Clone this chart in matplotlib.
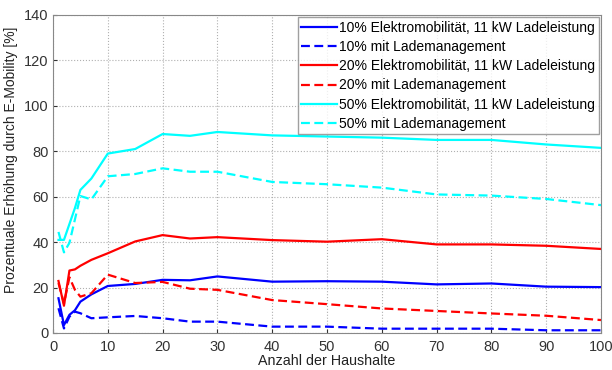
import matplotlib
matplotlib.use("Agg")
import matplotlib.pyplot as plt

plt.rcParams['font.family'] = ['Liberation Sans', 'DejaVu Sans']

x = [1, 2, 3, 4, 5, 7, 10, 15, 20, 25, 30, 40, 50, 60, 70, 80, 90, 100]

blue_solid = [15.3, 3.5, 8, 10, 13.8, 17, 20.7, 21.6, 23.4, 23.2, 24.9, 22.6, 22.8, 22.6, 21.4, 21.8, 20.4, 20.2]
blue_dash = [10.9, 2, 7.2, 9.4, 8.7, 6.5, 6.9, 7.5, 6.5, 5, 5, 2.8, 2.8, 1.9, 1.9, 1.9, 1.2, 1.2]
red_solid = [22.9, 12, 27.5, 28, 29.6, 32.2, 35.1, 40.3, 43.1, 41.6, 42.2, 40.9, 40.2, 41.3, 39, 39, 38.4, 37]
red_dash = [22, 13, 24.5, 19, 16, 17.5, 25.7, 22, 22.5, 19.5, 19, 14.5, 12.7, 10.8, 9.7, 8.6, 7.6, 5.7]
cyan_solid = [41, 41, 48, 55, 63, 68, 79, 81, 87.6, 86.8, 88.5, 87, 86.5, 86, 85, 85, 83, 81.5]
cyan_dash = [44.5, 35.5, 39.7, 50, 60.3, 58.8, 69, 70, 72.5, 71, 71, 66.5, 65.5, 64, 61, 60.5, 59, 56.3]

labels = [
    "10% Elektromobilität, 11 kW Ladeleistung",
    "10% mit Lademanagement",
    "20% Elektromobilität, 11 kW Ladeleistung",
    "20% mit Lademanagement",
    "50% Elektromobilität, 11 kW Ladeleistung",
    "50% mit Lademanagement",
]

xticks = [0, 10, 20, 30, 40, 50, 60, 70, 80, 90, 100]
yticks = [0, 20, 40, 60, 80, 100, 120, 140]

fig = plt.figure(figsize=(6.12, 3.70), dpi=100)
ax = fig.add_axes([53/612, 1-333/370, (601-53)/612, (333-15)/370])

series = [
    (blue_solid, '#0000ff', '-'),
    (blue_dash, '#0000ff', '--'),
    (red_solid, '#ff0000', '-'),
    (red_dash, '#ff0000', '--'),
    (cyan_solid, '#00ffff', '-'),
    (cyan_dash, '#00ffff', '--'),
]
for (vals, col, ls), lab in zip(series, labels):
    ax.plot(x, vals, color=col, linestyle=ls, linewidth=1.6, label=lab,
            dashes=(4, 2) if ls == '--' else (None, None))

ax.set_xlim(0, 100)
ax.set_ylim(0, 140)
ax.set_xticks(xticks)
ax.set_yticks(yticks)
ax.grid(True, linestyle=':', color='#b0b0b0', linewidth=0.8)
for s in ax.spines.values():
    s.set_color('#888888')
ax.tick_params(direction='in', colors='#333333', labelsize=10.5, length=3)
ax.tick_params(axis='x', pad=5)
ax.tick_params(axis='y', pad=3)
ax.set_xlabel("Anzahl der Haushalte", fontsize=10.3, color='#222222', labelpad=0)
ax.set_ylabel("Prozentuale Erhöhung durch E-Mobility [%]", fontsize=10, color='#222222')
ax.yaxis.set_label_coords(-0.064, 0.545)

leg = ax.legend(loc='upper right', fontsize=10.0, frameon=True, fancybox=False,
                edgecolor='#888888', handlelength=2.6, handletextpad=0.15,
                borderpad=0.25, labelspacing=0.38, borderaxespad=0.15)
leg.get_frame().set_linewidth(1.0)

fig.savefig("out.png", dpi=100)
